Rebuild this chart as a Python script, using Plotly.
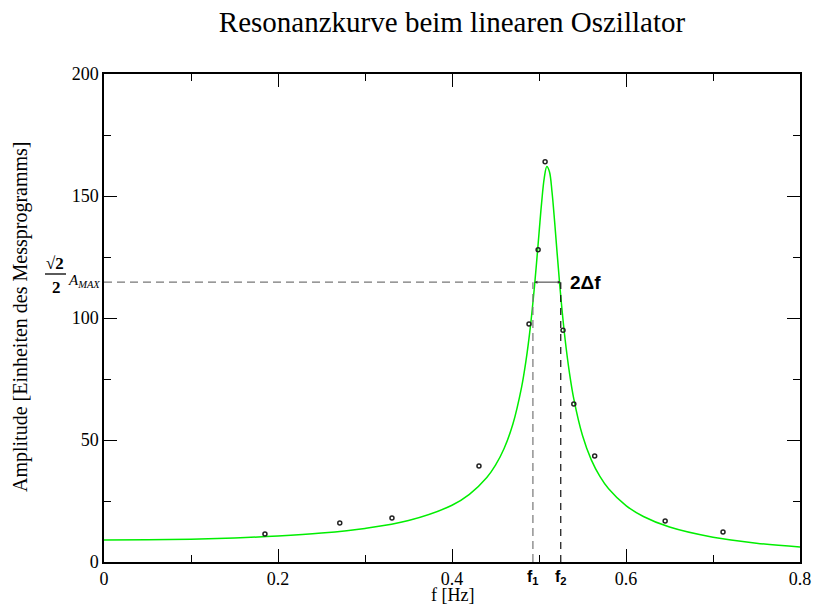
import plotly.graph_objects as go

# Measured data points
meas_f = [0.185, 0.271, 0.331, 0.431, 0.4885, 0.499, 0.507, 0.5276, 0.540, 0.564, 0.645, 0.7115]
meas_a = [11.5, 16.0, 18.0, 39.3, 97.5, 128.0, 164.0, 95.0, 64.8, 43.4, 16.8, 12.3]

# Fitted resonance curve
fit_f = [0.0, 0.05, 0.1, 0.15, 0.2, 0.25, 0.3, 0.35, 0.4, 0.42, 0.44, 0.45, 0.46, 0.47,
         0.48, 0.485, 0.49, 0.495, 0.5, 0.503, 0.506, 0.509, 0.512, 0.515, 0.518, 0.521,
         0.525, 0.53, 0.535, 0.54, 0.55, 0.56, 0.57, 0.58, 0.6, 0.62, 0.65, 0.7, 0.75, 0.8]
fit_a = [9.0, 9.09, 9.36, 9.85, 10.64, 11.85, 13.75, 16.97, 23.24, 27.69, 34.60, 39.68, 46.62, 56.55,
         71.68, 82.39, 96.19, 113.75, 134.65, 147.20, 157.26, 162.10, 159.97, 151.52, 139.27, 125.85,
         108.93, 91.28, 77.53, 66.86, 51.83, 41.95, 35.06, 29.99, 23.10, 18.65, 14.32, 10.15, 7.72, 6.15]

a_half = 114.7
f1 = 0.493
f2 = 0.525

x_ticks = [0, 0.2, 0.4, 0.6, 0.8]
x_ticklabels = ["0", "0.2", "0.4", "0.6", "0.8"]
y_ticks = [0, 50, 100, 150, 200]
y_ticklabels = ["0", "50", "100", "150", "200"]

W, H = 814, 607
L, R, T, B = 104, 14, 74, 45
PW, PH = W - L - R, H - T - B


def px(xp):
    return (xp - L) / PW


def py(yp):
    return (H - B - yp) / PH


serif = "Liberation Serif, Times New Roman, serif"
sans = "Liberation Sans, Arial, sans-serif"

fig = go.Figure()
fig.add_trace(go.Scatter(x=fit_f, y=fit_a, mode="lines", line=dict(color="#00ee00", width=1.5, shape="spline"),
                         hoverinfo="skip", showlegend=False))
fig.add_trace(go.Scatter(x=meas_f, y=meas_a, mode="markers",
                         marker=dict(symbol="circle-open", size=4, color="#222", line=dict(width=1.5, color="#222")),
                         showlegend=False))

# dashed guide lines
fig.add_shape(type="line", xref="x", yref="y", x0=0, x1=f1, y0=a_half, y1=a_half,
              line=dict(color="#777", width=1.2, dash="8px,5px"))
fig.add_shape(type="line", xref="x", yref="y", x0=f1, x1=f1, y0=0, y1=a_half,
              line=dict(color="#777", width=1.2, dash="8px,5px"))
fig.add_shape(type="line", xref="x", yref="y", x0=f2, x1=f2, y0=0, y1=a_half,
              line=dict(color="#111", width=1.2, dash="7px,6px"))
# double arrow between f1 and f2
fig.add_annotation(x=f2, y=a_half, ax=f1, ay=a_half, xref="x", yref="y", axref="x", ayref="y",
                   text="", showarrow=True, arrowhead=2, arrowside="end+start", arrowsize=0.6,
                   arrowwidth=1, arrowcolor="#333")
fig.add_annotation(x=0.533, y=a_half, xref="x", yref="y", xanchor="left", yanchor="middle",
                   text="<b>2Δf</b>", showarrow=False, font=dict(family=sans, size=19, color="black"))

# f1, f2 labels below axis
fig.add_annotation(x=f1, y=py(577), xref="x", yref="paper",
                   text="<b>f<sub>1</sub></b>", showarrow=False,
                   xanchor="center", yanchor="middle", font=dict(family=sans, size=16, color="black"))
fig.add_annotation(x=f2, y=py(577), xref="x", yref="paper",
                   text="<b>f<sub>2</sub></b>", showarrow=False,
                   xanchor="center", yanchor="middle", font=dict(family=sans, size=16, color="black"))

# sqrt(2)/2 A_MAX label
fig.add_annotation(x=px(55), y=py(263), xref="paper", yref="paper", text="<b>√2</b>", showarrow=False,
                   xanchor="center", yanchor="middle", font=dict(family=serif, size=17, color="black"))
fig.add_shape(type="line", xref="paper", yref="paper", x0=px(45), x1=px(66), y0=py(274), y1=py(274),
              line=dict(color="black", width=1.3))
fig.add_annotation(x=px(56), y=py(287), xref="paper", yref="paper", text="<b>2</b>", showarrow=False,
                   xanchor="center", yanchor="middle", font=dict(family=serif, size=17, color="black"))
fig.add_annotation(x=px(66), y=py(281), xref="paper", yref="paper",
                   text="<i>A<sub>MAX</sub></i>", showarrow=False,
                   xanchor="left", yanchor="middle", font=dict(family=serif, size=15, color="black"))

# axis titles
fig.add_annotation(x=px(453), y=py(607), xref="paper", yref="paper", text="f [Hz]", showarrow=False,
                   xanchor="center", yanchor="bottom", font=dict(family=serif, size=18, color="black"))
fig.add_annotation(x=px(20), y=py(317), xref="paper", yref="paper", text="Amplitude [Einheiten des Messprogramms]",
                   showarrow=False, textangle=-90, xanchor="center", yanchor="middle",
                   font=dict(family=serif, size=20, color="black"))

axis_common = dict(showgrid=False, zeroline=False, showline=True, linecolor="black", linewidth=1.5,
                   mirror="allticks", ticks="inside", ticklen=13, tickwidth=1.2, tickcolor="black",
                   tickfont=dict(family=serif, size=18, color="black"))

fig.update_xaxes(range=[0, 0.8], tickvals=x_ticks, ticktext=x_ticklabels,
                 minor=dict(dtick=0.1, ticks="inside", ticklen=7, tickwidth=1.2, tickcolor="black", showgrid=False),
                 **axis_common)
fig.update_yaxes(range=[0, 200], tickvals=y_ticks, ticktext=y_ticklabels,
                 minor=dict(dtick=25, ticks="inside", ticklen=7, tickwidth=1.2, tickcolor="black", showgrid=False),
                 **axis_common)

fig.update_layout(
    width=W, height=H,
    margin=dict(l=L, r=R, t=T, b=B, autoexpand=False),
    paper_bgcolor="white", plot_bgcolor="white",
    title=dict(text="Resonanzkurve beim linearen Oszillator", x=px(452), xref="paper", xanchor="center",
               y=(H - 22) / H, yref="container", yanchor="middle",
               font=dict(family=serif, size=29, color="black")),
    showlegend=False,
)

fig.write_html("out.html")
